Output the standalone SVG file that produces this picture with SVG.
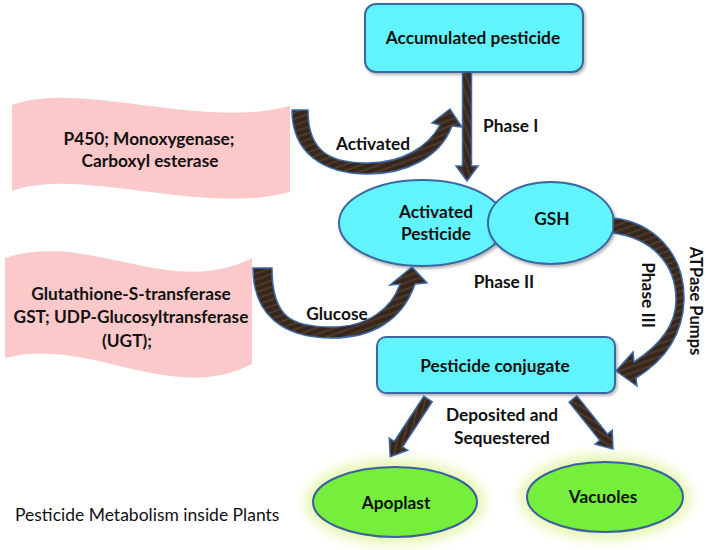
<svg xmlns="http://www.w3.org/2000/svg" width="708" height="550" viewBox="0 0 708 550">
<defs>
<pattern id="wood" width="6" height="6" patternUnits="userSpaceOnUse" patternTransform="rotate(-20)">
<rect width="6" height="6" fill="#3b2a1f"/>
<rect y="2" width="6" height="1" fill="#5a4332"/>
<rect y="5" width="6" height="0.6" fill="#2a1c13"/>
</pattern>
<filter id="shadow" x="-10%" y="-10%" width="130%" height="140%">
<feDropShadow dx="1.5" dy="2" stdDeviation="1.8" flood-color="#000" flood-opacity="0.3"/>
</filter>
<filter id="glow" x="-30%" y="-40%" width="160%" height="180%">
<feGaussianBlur stdDeviation="6"/>
</filter>
</defs>
<style>
text{font-family:Lato,"Open Sans","Liberation Sans",sans-serif;font-weight:bold;font-size:17.3px;fill:#111;}
.c{text-anchor:middle;}
.cap{font-weight:normal;font-size:17.5px;}
.edge{font-size:16.5px;}
.banner{fill:#fbc9c9;}
.node{fill:#62f4fc;stroke:#3b68a2;stroke-width:2;}
.green{fill:#76ee3c;stroke:#3b5f9f;stroke-width:2;}
.halo{fill:#e6f6b4;}
.arrow{fill:url(#wood);stroke:#3d6aa6;stroke-width:1.5;stroke-linejoin:miter;}
</style>

<g id="banner-phase1">
<path class="banner" d="M12,105 C80,80 200,130 290,106 L290,192 C200,216 80,166 12,191 Z"/>
<text class="c" x="149" y="145">P450; Monoxygenase;</text>
<text class="c" x="150" y="167">Carboxyl esterase</text>
</g>

<g id="banner-phase2">
<path class="banner" d="M5,258 C90,230 170,300 252,258 L252,364 C170,406 90,336 5,358 Z"/>
<text class="c" x="131" y="300">Glutathione-S-transferase</text>
<text class="c" x="131" y="323">GST; UDP-Glucosyltransferase</text>
<text class="c" x="127" y="347">(UGT);</text>
</g>

<g id="accumulated">
<rect class="node" x="365" y="4" width="218" height="68" rx="11" filter="url(#shadow)"/>
<text class="c" x="473" y="44">Accumulated pesticide</text>
</g>

<g id="activated-pesticide">
<ellipse class="node" cx="422" cy="223" rx="83" ry="43" filter="url(#shadow)"/>
<text class="c" x="436" y="218">Activated</text>
<text class="c" x="436" y="240">Pesticide</text>
</g>

<g id="gsh">
<ellipse class="node" cx="551" cy="223" rx="63" ry="41" filter="url(#shadow)"/>
<text class="c" x="552" y="225">GSH</text>
</g>

<g id="conjugate">
<rect class="node" x="377" y="337" width="238" height="56" rx="9" filter="url(#shadow)"/>
<text class="c" x="495" y="372">Pesticide conjugate</text>
</g>

<g id="apoplast">
<ellipse class="halo" cx="395" cy="502" rx="90" ry="43" filter="url(#glow)"/>
<ellipse class="green" cx="395" cy="502" rx="82" ry="35"/>
<text class="c" x="396" y="509">Apoplast</text>
</g>

<g id="vacuoles">
<ellipse class="halo" cx="605" cy="497" rx="86" ry="43" filter="url(#glow)"/>
<ellipse class="green" cx="605" cy="497" rx="78" ry="35"/>
<text class="c" x="603" y="503">Vacuoles</text>
</g>

<g id="connectors">
<!-- Phase I vertical -->
<polygon class="arrow" transform="translate(467,72) rotate(90)" points="0,-4.5 94,-4.5 94,-11 109,0 94,11 94,4.5 0,4.5"/>
<!-- Activated curved -->
<path class="arrow" d="M292,110 L308,110 C308,152 330,163 368,163 C402,163 428,147 440,125 L432,123 L450,109 L462,127 L452,126 C440,158 405,174 368,174 C322,174 292,152 292,110 Z"/>
<!-- Glucose curved -->
<path class="arrow" d="M253,268 L272,268 C272,318 292,327 332,327 C368,327 392,308 400,284 L390,285 L412,267 L427,283 L415,284 C402,322 370,338 332,338 C282,338 253,314 253,268 Z"/>
<!-- Phase III curved -->
<path class="arrow" d="M613,218 C652,222 685,252 684,300 C683,335 665,360 636,378 L637,386 L616,371 L633,352 L634,362 C660,345 676,325 676,300 C676,262 650,238 613,233 Z"/>
<!-- to Apoplast -->
<polygon class="arrow" transform="translate(428,399) rotate(123.2)" points="0,-5 54,-5 54,-11 69,0 54,11 54,5 0,5"/>
<!-- to Vacuoles -->
<polygon class="arrow" transform="translate(573,399) rotate(51.3)" points="0,-5 49,-5 49,-11 64,0 49,11 49,5 0,5"/>
</g>

<g id="labels">
<text x="483" y="132">Phase I</text>
<text class="c" x="373" y="150">Activated</text>
<text class="c" x="504" y="288">Phase II</text>
<text class="c" x="337" y="320">Glucose</text>
<text class="c" transform="translate(642,295) rotate(90)">Phase III</text>
<text class="c edge" transform="translate(690,301) rotate(90)">ATPase Pumps</text>
<text class="c" x="502" y="421">Deposited and</text>
<text class="c" x="502" y="444">Sequestered</text>
<text class="cap" x="15" y="521">Pesticide Metabolism inside Plants</text>
</g>
</svg>
